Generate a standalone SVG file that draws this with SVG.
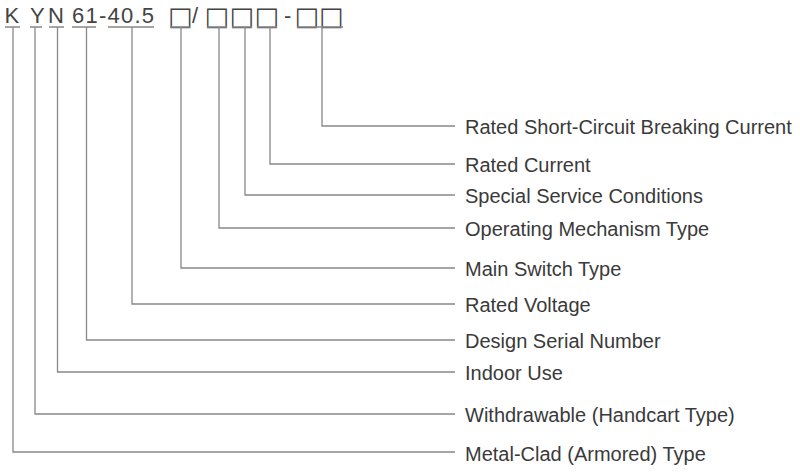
<svg xmlns="http://www.w3.org/2000/svg" width="800" height="474" viewBox="0 0 800 474">
<style>
.code{font-family:"Liberation Sans",Arial,sans-serif;font-size:22px;fill:#444}
.box{font-family:"DejaVu Sans",sans-serif;font-size:26px;fill:#444}
.lbl{font-family:"Liberation Sans",Arial,sans-serif;font-size:20px;fill:#3a3a3a}
.ul{stroke:#888;stroke-width:1.3;fill:none}
.conn path{stroke:#888;stroke-width:1.3;fill:none}
</style>
<rect width="800" height="474" fill="#fff"/>
<g id="code">
<text class="code" x="4.5" y="23">K</text>
<text class="code" x="30" y="23">Y</text>
<text class="code" x="48" y="23">N</text>
<text class="code" x="72" y="23" textLength="82" lengthAdjust="spacing">61-40.5</text>
<text class="box" x="168" y="24.5">□</text>
<text class="code" x="192" y="23">/</text>
<text class="box" x="204.5" y="24.5">□</text>
<text class="box" x="229.5" y="24.5">□</text>
<text class="box" x="254.5" y="24.5">□</text>
<text class="code" x="284" y="23">-</text>
<text class="box" x="294.5" y="24.5">□</text>
<text class="box" x="319" y="24.5">□</text>
<path class="ul" d="M5 27H20M30 27H42M49 27H64M72 27H96M108 27H154M170 27H190M207 27H227M232 27H252M257 27H277M297 27H343"/>
</g>
<g class="conn" id="connectors">
<path d="M322 27V126H455"/>
<path d="M270 27V164H455"/>
<path d="M245 27V195H455"/>
<path d="M219 27V228H455"/>
<path d="M181 27V268H455"/>
<path d="M132 27V304H455"/>
<path d="M86.5 27V340H455"/>
<path d="M57.5 27V372H455"/>
<path d="M35 27V414H455"/>
<path d="M13 27V452H455"/>
</g>
<g id="n1"><text class="lbl" x="465" y="134">Rated Short-Circuit Breaking Current</text></g>
<g id="n2"><text class="lbl" x="465" y="172">Rated Current</text></g>
<g id="n3"><text class="lbl" x="465" y="203">Special Service Conditions</text></g>
<g id="n4"><text class="lbl" x="465" y="236">Operating Mechanism Type</text></g>
<g id="n5"><text class="lbl" x="465" y="276">Main Switch Type</text></g>
<g id="n6"><text class="lbl" x="465" y="312">Rated Voltage</text></g>
<g id="n7"><text class="lbl" x="465" y="348">Design Serial Number</text></g>
<g id="n8"><text class="lbl" x="465" y="380">Indoor Use</text></g>
<g id="n9"><text class="lbl" x="465" y="422">Withdrawable (Handcart Type)</text></g>
<g id="n10"><text class="lbl" x="465" y="461">Metal-Clad (Armored) Type</text></g>
</svg>
